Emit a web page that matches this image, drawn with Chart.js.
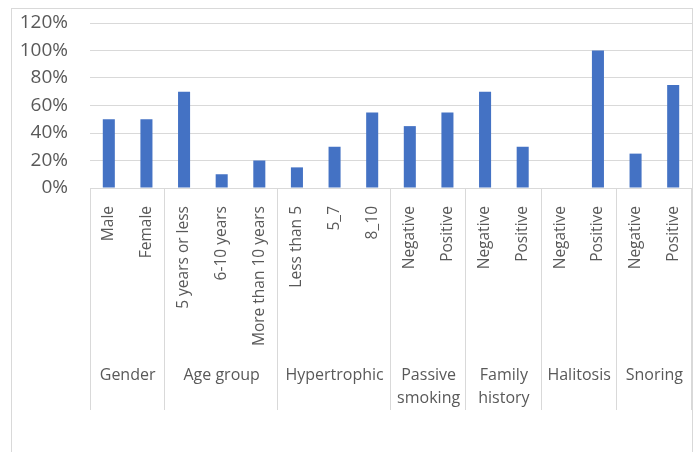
<!DOCTYPE html>
<html>
<head>
<meta charset="utf-8">
<script src="https://cdn.jsdelivr.net/npm/chart.js@4"></script>
<style>
  html, body { margin: 0; padding: 0; background: #fff; }
  #wrap { width: 695px; height: 452px; position: relative; }
</style>
</head>
<body>
<div id="wrap"><canvas id="chart" width="695" height="452"></canvas></div>
<script>
const categories = [
  "Male", "Female",
  "5 years or less", "6-10 years", "More than 10 years",
  "Less than 5", "5_7", "8_10",
  "Negative", "Positive",
  "Negative", "Positive",
  "Negative", "Positive",
  "Negative", "Positive"
];
const values = [0.5, 0.5, 0.7, 0.1, 0.2, 0.15, 0.3, 0.55, 0.45, 0.55, 0.7, 0.3, 0, 1.0, 0.25, 0.75];
const groupNames = ["Gender", "Age group", "Hypertrophic", ["Passive", "smoking"], ["Family", "history"], "Halitosis", "Snoring"];
const groupSizes = [2, 3, 3, 2, 2, 2, 2];
const yTicks = [0, 0.2, 0.4, 0.6, 0.8, 1.0, 1.2];

const FONT = "'Open Sans', sans-serif";
const GRID = "#d9d9d9";
const TEXT = "#595959";

// frame + group labels under the category axis
const groupAxis = {
  id: "groupAxis",
  beforeDraw(chart) {
    const ctx = chart.ctx;
    ctx.save();
    ctx.strokeStyle = GRID;
    ctx.lineWidth = 1;
    ctx.strokeRect(11.5, 8.5, 681, 470);
    ctx.restore();
  },
  afterDraw(chart) {
    const { ctx, chartArea } = chart;
    const x = chart.scales.x;
    const half = (x.getPixelForValue(1) - x.getPixelForValue(0)) / 2;
    const top = chartArea.bottom;
    const bottom = 410;
    ctx.save();
    ctx.strokeStyle = GRID;
    ctx.lineWidth = 1;
    ctx.fillStyle = TEXT;
    ctx.font = "16px " + FONT;
    ctx.textAlign = "center";
    ctx.textBaseline = "middle";
    let start = 0;
    const edges = [Math.round(x.getPixelForValue(0) - half) + 0.5];
    groupSizes.forEach((n, g) => {
      const end = start + n - 1;
      const left = x.getPixelForValue(start) - half;
      const right = x.getPixelForValue(end) + half;
      edges.push(Math.round(right) - 0.5);
      const lines = Array.isArray(groupNames[g]) ? groupNames[g] : [groupNames[g]];
      lines.forEach((t, i) => ctx.fillText(t, (left + right) / 2, 375 + i * 23));
      start += n;
    });
    edges.forEach(px => {
      ctx.beginPath();
      ctx.moveTo(px, top);
      ctx.lineTo(px, bottom);
      ctx.stroke();
    });
    ctx.restore();
  }
};

new Chart(document.getElementById("chart").getContext("2d"), {
  type: "bar",
  data: {
    labels: categories,
    datasets: [{
      data: values,
      backgroundColor: "#4472c4",
      barPercentage: 0.32,
      categoryPercentage: 1
    }]
  },
  options: {
    responsive: false,
    animation: false,
    layout: { padding: { top: 23, left: 12, right: 3, bottom: 0 } },
    plugins: { legend: { display: false }, tooltip: { enabled: false } },
    scales: {
      x: {
        grid: { display: false },
        border: { display: true, color: GRID },
        ticks: {
          autoSkip: false,
          minRotation: 90,
          maxRotation: 90,
          padding: 10,
          color: TEXT,
          font: { family: FONT, size: 15.5 }
        },
        afterFit(scale) {
          scale.height = 264;
          scale.paddingLeft = 0;
          scale.paddingRight = 0;
        }
      },
      y: {
        min: 0,
        max: 1.2,
        afterBuildTicks(scale) { scale.ticks = yTicks.map(v => ({ value: v })); },
        grid: { color: GRID, drawTicks: false },
        border: { display: false },
        ticks: {
          padding: 22,
          color: TEXT,
          font: { family: FONT, size: 19 },
          callback: v => Math.round(v * 100) + "%"
        },
        afterFit(scale) {
          scale.width = 78;
          scale.paddingTop = 0;
          scale.paddingBottom = 0;
        }
      }
    }
  },
  plugins: [groupAxis]
});
</script>
</body>
</html>
